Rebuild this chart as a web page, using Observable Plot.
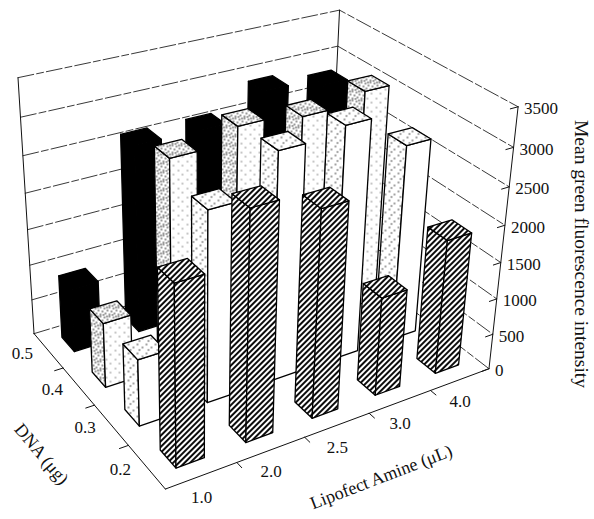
<!DOCTYPE html>
<html>
<head>
<meta charset="utf-8">
<script src="https://cdn.jsdelivr.net/npm/d3@7"></script>
<script src="https://cdn.jsdelivr.net/npm/@observablehq/plot@0.6"></script>
<style>
  html, body { margin: 0; padding: 0; background: #fff; }
  #chart svg { display: block; }
</style>
</head>
<body>
<div id="chart"></div>
<script>
// ---------------- data ----------------
const lipofect = ["1.0", "2.0", "2.5", "3.0", "4.0"];          // Lipofect Amine (µL)
const dnaLevels = ["0.2", "0.3", "0.4", "0.5"];                 // DNA (µg), front to back
const dna02 = [2370, 3000, 2750, 1350, 1850];
const dna03 = [910, 2570, 3070, 3170, 2700];
const dna04 = [900, 2820, 3010, 2930, 3060];
const dna05 = [900, 2610, 2600, 2920, 2810];
const zTicks = [0, 500, 1000, 1500, 2000, 2500, 3000, 3500];
const zMax = 3500;
const seriesValues = [dna02, dna03, dna04, dna05];

// ---------------- 3D view (perspective fitted to the box corners) ----------------
const W = 594, H = 519;
const boxCorners = [
  {p: [0, 0, 0], s: [166, 489]},
  {p: [1, 0, 0], s: [488, 369]},
  {p: [1, 0, 1], s: [517, 105]},
  {p: [0, 1, 0], s: [33, 332]},
  {p: [0, 1, 1], s: [17, 78]},
  {p: [1, 1, 1], s: [340, 10]}
];
function solveCamera(anchors) {
  const rows = [], rhs = [];
  for (const {p: [X, Y, Z], s: [x, y]} of anchors) {
    rows.push([X, Y, Z, 1, 0, 0, 0, 0, -x * X, -x * Y, -x * Z]); rhs.push(x);
    rows.push([0, 0, 0, 0, X, Y, Z, 1, -y * X, -y * Y, -y * Z]); rhs.push(y);
  }
  const n = 11;
  const M = Array.from({length: n}, () => new Array(n + 1).fill(0));
  rows.forEach((r, k) => {
    for (let a = 0; a < n; a++) {
      for (let b = 0; b < n; b++) M[a][b] += r[a] * r[b];
      M[a][n] += r[a] * rhs[k];
    }
  });
  for (let c = 0; c < n; c++) {
    let piv = c;
    for (let r = c + 1; r < n; r++) if (Math.abs(M[r][c]) > Math.abs(M[piv][c])) piv = r;
    [M[c], M[piv]] = [M[piv], M[c]];
    for (let r = 0; r < n; r++) {
      if (r === c) continue;
      const f = M[r][c] / M[c][c];
      for (let k = c; k <= n; k++) M[r][k] -= f * M[c][k];
    }
  }
  return M.map((row, i) => row[n] / row[i]);
}
const C = solveCamera(boxCorners);
function proj(u, v, z) {
  const d = C[8] * u + C[9] * v + C[10] * z + 1;
  return [(C[0] * u + C[1] * v + C[2] * z + C[3]) / d, (C[4] * u + C[5] * v + C[6] * z + C[7]) / d];
}

const uScale = d3.scaleBand(lipofect, [0, 1]).paddingInner(0.6).paddingOuter(0.3);
const vScale = d3.scaleBand(dnaLevels, [0, 1]).paddingInner(0.58).paddingOuter(0.29);
const zScale = d3.scaleLinear([0, zMax], [0, 1]);

// ---------------- faces of the bars ----------------
const faceFill = {
  "0.2": {left: "url(#hatch)", front: "url(#hatch)", top: "url(#hatch)"},
  "0.3": {left: "url(#dotsLight)", front: "#ffffff", top: "url(#dotsLight)"},
  "0.4": {left: "url(#dotsDense)", front: "url(#dotsSparse)", top: "url(#dotsDense)"},
  "0.5": {left: "#000000", front: "#000000", top: "#000000"}
};
const bars = [];
dnaLevels.forEach((d, j) => lipofect.forEach((l, i) => bars.push({i, j, lipo: l, dna: d, value: seriesValues[j][i]})));
bars.sort((a, b) => (b.i + b.j) - (a.i + a.j) || b.j - a.j);

const faces = [];
bars.forEach((b, k) => {
  const u0 = uScale(b.lipo), u1 = u0 + uScale.bandwidth();
  const v0 = vScale(b.dna), v1 = v0 + vScale.bandwidth();
  const z1 = zScale(b.value);
  const polys = {
    left: [[u0, v0, 0], [u0, v1, 0], [u0, v1, z1], [u0, v0, z1]],
    front: [[u0, v0, 0], [u1, v0, 0], [u1, v0, z1], [u0, v0, z1]],
    top: [[u0, v0, z1], [u1, v0, z1], [u1, v1, z1], [u0, v1, z1]]
  };
  for (const f of ["left", "front", "top"]) {
    polys[f].forEach(([u, v, z]) => {
      const [x, y] = proj(u, v, z);
      faces.push({x, y, id: `${k}-${f}`, fill: faceFill[b.dna][f]});
    });
  }
});

// ---------------- walls, grid, axes ----------------
const grid = [];
zTicks.forEach(t => {
  const z = zScale(t);
  [[0, 1, z], [1, 1, z], [1, 0, z]].forEach(([u, v, zz]) => {
    const [x, y] = proj(u, v, zz); grid.push({x, y, id: "g" + t});
  });
});
const edges = [];
[[[0, 1, 0], [0, 1, 1]], [[1, 1, 0], [1, 1, 1]]].forEach((seg, k) => seg.forEach(([u, v, z]) => {
  const [x, y] = proj(u, v, z); edges.push({x, y, id: "e" + k});
}));
const axes = [];
[[[0, 0, 0], [1, 0, 0]], [[0, 1, 0], [0, 0, 0]], [[1, 0, 0], [1, 0, 1]]].forEach((seg, k) => seg.forEach(([u, v, z]) => {
  const [x, y] = proj(u, v, z); axes.push({x, y, id: "a" + k});
}));
const ticks = [];
lipofect.slice(1).forEach((l, k) => {
  const u = uScale(l) - uScale.step() * uScale.paddingInner() / 2;
  [[u, 0, 0], [u, -0.03, 0]].forEach(([a, b, c]) => { const [x, y] = proj(a, b, c); ticks.push({x, y, id: "tx" + k}); });
});
dnaLevels.slice(1).forEach((d, k) => {
  const v = vScale(d) - vScale.step() * vScale.paddingInner() / 2;
  [[0, v, 0], [-0.025, v, 0]].forEach(([a, b, c]) => { const [x, y] = proj(a, b, c); ticks.push({x, y, id: "ty" + k}); });
});
zTicks.forEach(t => {
  [[1, 0, zScale(t)], [0.975, 0, zScale(t)]].forEach(([a, b, c]) => { const [x, y] = proj(a, b, c); ticks.push({x, y, id: "tz" + t}); });
});

const lipoLabels = lipofect.map(l => { const [x, y] = proj(uScale(l) + uScale.bandwidth() / 2, 0, 0); return {x, y, text: l}; });
const dnaLabels = dnaLevels.map(d => { const [x, y] = proj(0, vScale(d) + vScale.bandwidth() / 2, 0); return {x, y, text: d}; });
const zLabels = zTicks.map(t => { const [x, y] = proj(1, 0, zScale(t)); return {x, y, text: String(t)}; });
const [lx, ly] = proj(0.5, 0, 0);
const [dx0, dy0] = proj(0, 0.5, 0);
const [zx, zy] = proj(1, 0, 0.5);

const serif = "'Liberation Serif', 'DejaVu Serif', serif";

const chart = Plot.plot({
  width: W,
  height: H,
  margin: 0,
  x: {domain: [0, W], range: [0, W], axis: null},
  y: {domain: [0, H], range: [0, H], axis: null},
  color: {type: "identity"},
  style: {background: "#fff", fontFamily: serif},
  marks: [
    Plot.line(grid, {x: "x", y: "y", z: "id", stroke: "#222", strokeWidth: 0.9, strokeDasharray: "16,3,7,3"}),
    Plot.line(edges, {x: "x", y: "y", z: "id", stroke: "#111", strokeWidth: 1}),
    Plot.line(faces, {x: "x", y: "y", z: "id", fill: "fill", stroke: "#000", strokeWidth: 1.3, strokeLinejoin: "round", curve: "linear-closed"}),
    Plot.line(axes, {x: "x", y: "y", z: "id", stroke: "#111", strokeWidth: 1}),
    Plot.line(ticks, {x: "x", y: "y", z: "id", stroke: "#111", strokeWidth: 1}),
    Plot.text(lipoLabels, {x: "x", y: "y", text: "text", dy: 22, fontSize: 17, fill: "#111"}),
    Plot.text(dnaLabels, {x: "x", y: "y", text: "text", dx: -26, dy: 3, fontSize: 17, fill: "#111"}),
    Plot.text(zLabels, {x: "x", y: "y", text: "text", dx: 6, dy: 2, textAnchor: "start", fontSize: 17, fill: "#111"}),
    Plot.text(["Lipofect Amine (\u03bcL)"], {x: [lx], y: [ly], text: d => d, dx: 44, dy: 52, rotate: -21, fontSize: 18, fill: "#111"}),
    Plot.text(["DNA (\u03bcg)"], {x: [dx0], y: [dy0], text: d => d, dx: -53, dy: 49, rotate: 50, fontSize: 18, fill: "#111"}),
    Plot.text(["Mean green fluorescence intensity"], {x: [zx], y: [zy], text: d => d, dx: 78, dy: 10, rotate: 90, fontSize: 19.5, fill: "#111"})
  ]
});

const defs = d3.select(chart).insert("defs", ":first-child");
const hatch = defs.append("pattern").attr("id", "hatch").attr("width", 4).attr("height", 4)
  .attr("patternUnits", "userSpaceOnUse").attr("patternTransform", "rotate(45)");
hatch.append("rect").attr("width", 4).attr("height", 4).attr("fill", "#fff");
hatch.append("line").attr("x1", 1).attr("y1", 0).attr("x2", 1).attr("y2", 4).attr("stroke", "#000").attr("stroke-width", 1.9);
function dots(id, pts, r) {
  const p = defs.append("pattern").attr("id", id).attr("width", 9).attr("height", 9).attr("patternUnits", "userSpaceOnUse");
  p.append("rect").attr("width", 9).attr("height", 9).attr("fill", "#fff");
  pts.forEach(([x, y]) => p.append("circle").attr("cx", x).attr("cy", y).attr("r", r).attr("fill", "#000"));
}
dots("dotsDense", [[1, 1], [5, 2], [8, 4], [3, 5], [6, 7], [1, 8], [4, 8.5], [7.5, 1]], 0.75);
dots("dotsLight", [[2, 2], [7, 5], [4, 7.5]], 0.7);
dots("dotsSparse", [[2, 3], [7, 8]], 0.6);

document.getElementById("chart").append(chart);
</script>
</body>
</html>
